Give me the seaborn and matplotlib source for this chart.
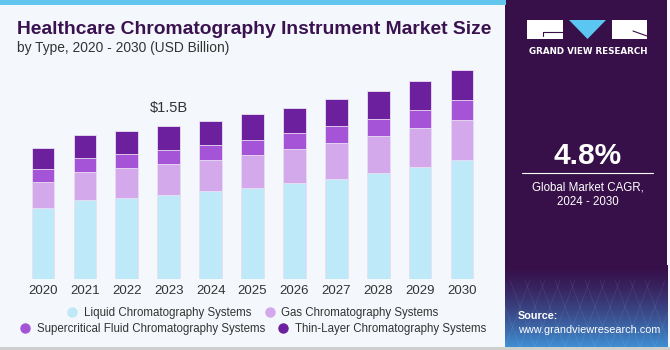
import numpy as np
import pandas as pd
import matplotlib
matplotlib.use("Agg")
import matplotlib.pyplot as plt
from matplotlib.patches import Rectangle, Polygon, FancyBboxPatch
from matplotlib.lines import Line2D
from matplotlib.colors import LinearSegmentedColormap
import seaborn as sns

years = ["2020", "2021", "2022", "2023", "2024", "2025", "2026", "2027", "2028", "2029", "2030"]
liquid = [0.70, 0.775, 0.797, 0.824, 0.86, 0.895, 0.938, 0.983, 1.036, 1.095, 1.164]
gas = [0.25, 0.277, 0.288, 0.301, 0.304, 0.318, 0.333, 0.35, 0.363, 0.382, 0.398]
supercritical = [0.125, 0.134, 0.137, 0.137, 0.147, 0.15, 0.157, 0.164, 0.17, 0.176, 0.19]
thin_layer = [0.206, 0.229, 0.231, 0.238, 0.241, 0.252, 0.251, 0.265, 0.277, 0.29, 0.30]
series_names = ["Liquid Chromatography Systems", "Gas Chromatography Systems",
                "Supercritical Fluid Chromatography Systems", "Thin-Layer Chromatography Systems"]
colors = ["#BEE9F8", "#D4A9EC", "#A553D7", "#6C209D"]
annot_year = "2023"
annot_text = "$1.5B"

sns.set_theme(style="white")
plt.rcParams["font.family"] = ["Liberation Sans", "DejaVu Sans"]

BG = "#F4F8FC"
DARK = "#371049"

fig = plt.figure(figsize=(6.7, 3.5), dpi=100)
fig.patch.set_facecolor(BG)

W, H = 670.0, 350.0
left_px, right_px = 22.05, 483.0
ax = fig.add_axes([left_px / W, (H - 279) / H, (right_px - left_px) / W, (279 - 60) / H])
ax.set_facecolor("none")

df = pd.DataFrame({"year": years, "l": liquid, "g": gas, "s": supercritical, "t": thin_layer})
cum = df[["l", "g", "s", "t"]].cumsum(axis=1)
for col, c in zip(["t", "s", "g", "l"], colors[::-1]):
    sns.barplot(x=df["year"], y=cum[col], color=c, width=0.54, ax=ax,
                edgecolor="#E9E0F2", linewidth=0.6, saturation=1)

ax.set_xlim(-0.5, 10.5)
ax.set_ylim(0, (279 - 60) / 102.0)
ax.set_xlabel("")
ax.set_ylabel("")
ax.set_yticks([])
for s in ax.spines.values():
    s.set_visible(False)
ax.tick_params(axis="x", length=0, pad=4, labelsize=9.5, labelcolor="#333333")

i = years.index(annot_year)
ax.annotate(annot_text, (i, cum["t"][i]), xytext=(0, 8), textcoords="offset points",
            ha="center", va="bottom", fontsize=10.5, color="#333333")

def handle(c):
    return Line2D([], [], marker="o", linestyle="", markersize=6.5, markerfacecolor=c, markeredgecolor=c)

for rows, yy in (((0, 1), 313), ((2, 3), 329)):
    fig.legend([handle(colors[k]) for k in rows], [series_names[k] for k in rows], ncol=2,
               loc="center", bbox_to_anchor=(252 / W, 1 - yy / H), frameon=False,
               fontsize=8.3, handletextpad=0.42, columnspacing=0.97, labelcolor="#333333",
               handlelength=1.2, borderpad=0)

fig.text(17 / W, 1 - 30 / H, "Healthcare Chromatography Instrument Market Size",
         fontsize=13.9, fontweight="bold", color="#3A1250", va="center", ha="left")
fig.text(17 / W, 1 - 48 / H, "by Type, 2020 - 2030 (USD Billion)",
         fontsize=9.9, color="#333333", va="center", ha="left")

fig.patches.append(Rectangle((0, 1 - 5 / H), 506 / W, 5 / H, transform=fig.transFigure,
                             facecolor="#62C6EE", edgecolor="none", zorder=0))
fig.patches.append(Rectangle((0, 0), 1, 3 / H, transform=fig.transFigure,
                             facecolor="#CFCFCF", edgecolor="none", zorder=0))

pax = fig.add_axes([505 / W, 3 / H, 165 / W, 347 / H])
pax.axis("off")
pax.add_patch(FancyBboxPatch((505, -20), 165 - 3, 367 + 20, boxstyle="round,pad=0,rounding_size=6",
                             facecolor=DARK, edgecolor="none", zorder=0))
pax.add_patch(Rectangle((505, 0), 20, 347, facecolor=DARK, edgecolor="none", zorder=0))
pax.add_patch(Rectangle((505, 20), 162, 327, facecolor=DARK, edgecolor="none", zorder=0))
grad = np.linspace(0, 1, 100)[:, None] ** 1.4
cmap = LinearSegmentedColormap.from_list("g", [DARK, "#3A4E8E", "#3F8ED2"])
pax.imshow(grad, extent=(505, 667, 347, 265), aspect="auto", cmap=cmap, zorder=1)
for k in range(12):
    pax.plot([505 + k * 15, 520 + k * 15 - 40], [347, 280], color="white", alpha=0.08, lw=0.6, zorder=2)
    pax.plot([505 + k * 15, 490 + k * 15 + 40], [347, 280], color="white", alpha=0.08, lw=0.6, zorder=2)
pax.set_xlim(505, 670)
pax.set_ylim(347, 0)

pax.add_patch(Rectangle((527, 20), 36, 19, facecolor="white", edgecolor="none", zorder=3))
pax.plot([543, 563], [32, 32], color=DARK, lw=0.8, zorder=4)
pax.plot([543, 543], [32, 36], color=DARK, lw=0.8, zorder=4)
pax.add_patch(Polygon([(569, 20), (606, 20), (587.5, 39)], closed=True,
                      facecolor="#5BC6F1", edgecolor="none", zorder=3))
pax.add_patch(Rectangle((612, 20), 35, 19, facecolor="white", edgecolor="none", zorder=3))
pax.plot([633, 647], [31, 36], color=DARK, lw=0.8, zorder=4)
pax.text(588, 51, "GRAND VIEW RESEARCH", color="white", fontsize=6.3, fontweight="bold",
         ha="center", va="center", family="DejaVu Sans")

pax.text(588, 156, "4.8%", color="white", fontsize=21.5, fontweight="bold", ha="center", va="center")
pax.plot([522, 653], [173, 173], color="white", lw=0.8, zorder=3)
pax.text(588, 187, "Global Market CAGR,", color="white", fontsize=8.3, ha="center", va="center")
pax.text(588, 202, "2024 - 2030", color="white", fontsize=8.3, ha="center", va="center")
pax.text(518, 316, "Source:", color="white", fontsize=7.8, fontweight="bold", ha="left", va="center")
pax.text(518, 330, "www.grandviewresearch.com", color="white", fontsize=7.8, ha="left", va="center")

fig.savefig("out.png", dpi=100, facecolor=BG)
